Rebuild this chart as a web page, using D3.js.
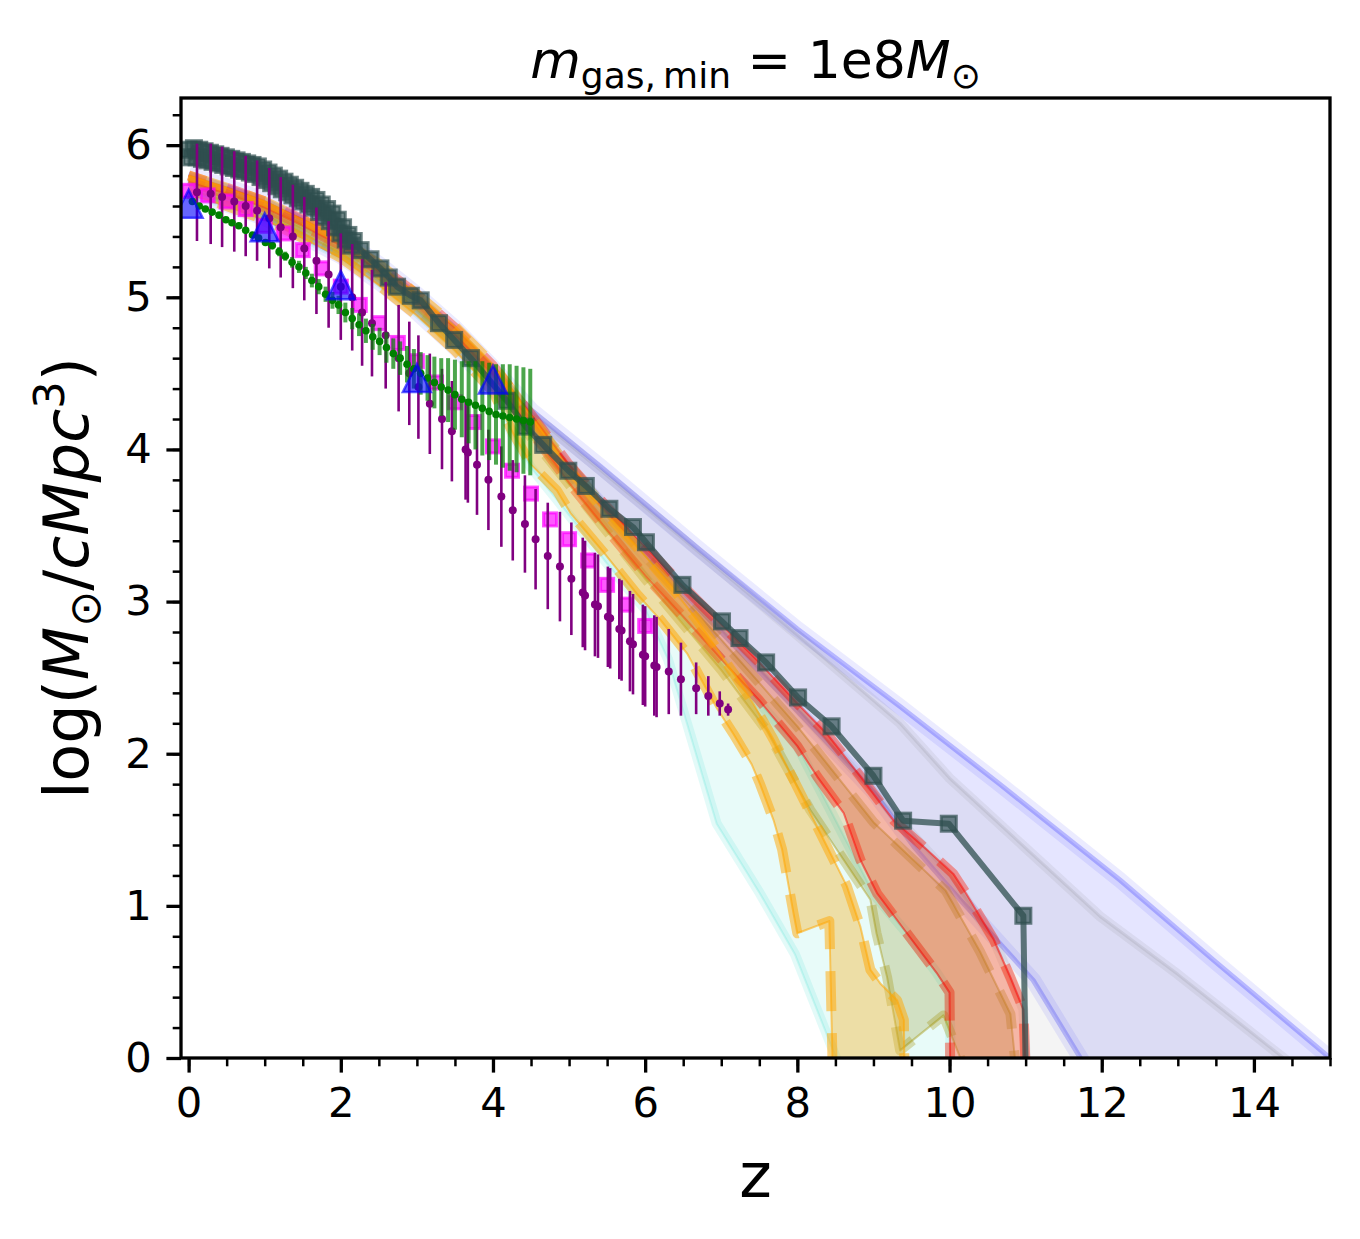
<!DOCTYPE html>
<html><head><meta charset="utf-8">
<script src="https://cdn.jsdelivr.net/npm/d3@7"></script>
<style>body{margin:0;background:#fff}</style>
</head><body>
<svg id="chart" width="1360" height="1239"></svg>
<script>
// ---------------- data ----------------
const xTicks = [0,2,4,6,8,10,12,14];
const yTicks = [0,1,2,3,4,5,6];

// dark slate simulation series (squares + line)
const darkZ = [0.00,0.035,0.07,0.105,0.14,0.175,0.21,0.245,0.28,0.315,0.35,0.385,0.42,0.455,0.49,0.525,0.56,0.595,0.63,0.665,0.70,0.735,0.77,0.805,0.84,0.875,0.91,0.945,0.98,1.015,1.05,1.085,1.12,1.155,1.19,1.225,1.26,1.295,1.33,1.365,1.40,1.435,1.47,1.505,1.54,1.575,1.61,1.645,1.68,1.715,1.75,1.785,1.82,1.855,1.89,1.925,1.96,1.995,2.03,2.065,2.10,2.135,2.17,2.26,2.39,2.52,2.63,2.74,2.92,3.05,3.29,3.49,3.71,4.18,4.43,4.66,4.99,5.22,5.53,5.84,6.01,6.49,7.01,7.24,7.59,8.01,8.45,9.00,9.39,9.99,10.97,11.01];
const darkY = [5.97,5.92,5.98,5.92,5.97,5.91,5.96,5.90,5.95,5.89,5.94,5.88,5.93,5.87,5.92,5.86,5.91,5.85,5.90,5.84,5.89,5.83,5.88,5.82,5.87,5.81,5.86,5.79,5.84,5.77,5.82,5.75,5.80,5.73,5.78,5.71,5.76,5.69,5.74,5.67,5.72,5.65,5.70,5.63,5.68,5.61,5.66,5.59,5.64,5.56,5.61,5.53,5.58,5.50,5.55,5.46,5.51,5.42,5.46,5.38,5.41,5.34,5.37,5.31,5.25,5.19,5.13,5.07,5.01,4.98,4.83,4.72,4.60,4.32,4.15,4.03,3.86,3.76,3.61,3.49,3.39,3.11,2.87,2.76,2.60,2.37,2.18,1.855,1.56,1.54,0.935,-0.4];

// blue triangles
const triZ = [0,1,2,3,4];
const triY = [5.615,5.46,5.08,4.47,4.46];

// magenta squares
const pinkZ = [0,0.25,0.5,0.75,1,1.25,1.5,1.75,2,2.25,2.5,2.75,3,3.25,3.5,3.75,4,4.25,4.5,4.75,5,5.25,5.5,5.75,6];
const pinkY = [5.70,5.67,5.63,5.58,5.47,5.42,5.31,5.19,5.07,4.95,4.83,4.70,4.58,4.44,4.31,4.18,4.02,3.86,3.71,3.54,3.41,3.27,3.11,2.98,2.84];

// purple points with error bars
const purpleZ = [0.11,0.29,0.44,0.60,0.75,0.90,1.06,1.21,1.37,1.52,1.68,1.84,2.00,2.15,2.28,2.41,2.59,2.76,2.90,3.02,3.17,3.33,3.46,3.64,3.67,3.79,3.94,4.11,4.26,4.42,4.56,4.72,4.88,5.03,5.18,5.21,5.34,5.38,5.51,5.54,5.66,5.69,5.80,5.84,5.97,6.00,6.12,6.15,6.31,6.47,6.67,6.83,6.98,7.09];
const purpleY = [5.69,5.68,5.66,5.63,5.60,5.57,5.52,5.46,5.40,5.32,5.24,5.15,5.07,5.00,4.90,4.83,4.75,4.60,4.50,4.41,4.30,4.20,4.12,4.00,3.98,3.90,3.80,3.69,3.60,3.51,3.41,3.30,3.23,3.15,3.06,3.04,2.98,2.97,2.90,2.89,2.82,2.81,2.74,2.72,2.65,2.64,2.58,2.57,2.54,2.49,2.43,2.38,2.33,2.29];
const purpleErr = [0.32,0.33,0.33,0.33,0.33,0.33,0.33,0.33,0.34,0.34,0.35,0.35,0.35,0.35,0.35,0.35,0.35,0.35,0.34,0.34,0.33,0.33,0.33,0.33,0.33,0.33,0.33,0.33,0.33,0.32,0.33,0.35,0.36,0.37,0.36,0.36,0.34,0.34,0.33,0.33,0.33,0.33,0.33,0.33,0.33,0.33,0.33,0.33,0.28,0.24,0.17,0.13,0.08,0.04];

// green points with error bars
const greenZ = [0.05,0.14,0.22,0.31,0.40,0.49,0.57,0.66,0.75,0.84,0.92,1.01,1.10,1.19,1.27,1.36,1.45,1.54,1.62,1.71,1.80,1.89,1.97,2.06,2.15,2.24,2.33,2.42,2.51,2.60,2.69,2.78,2.87,2.96,3.05,3.14,3.23,3.32,3.41,3.50,3.59,3.68,3.77,3.86,3.95,4.04,4.13,4.22,4.31,4.40,4.49];
const greenY = [5.63,5.60,5.58,5.56,5.54,5.51,5.49,5.47,5.44,5.41,5.39,5.36,5.34,5.30,5.27,5.23,5.20,5.16,5.11,5.07,5.02,4.98,4.95,4.90,4.86,4.82,4.78,4.74,4.71,4.67,4.63,4.60,4.56,4.53,4.50,4.47,4.44,4.41,4.39,4.36,4.33,4.31,4.29,4.27,4.25,4.23,4.22,4.21,4.20,4.19,4.18];
const greenErr = [0.01,0.01,0.01,0.01,0.01,0.01,0.015,0.015,0.015,0.02,0.02,0.02,0.025,0.03,0.03,0.035,0.04,0.04,0.045,0.05,0.05,0.055,0.06,0.065,0.07,0.075,0.08,0.085,0.09,0.10,0.10,0.11,0.12,0.13,0.14,0.15,0.17,0.19,0.21,0.23,0.25,0.27,0.29,0.31,0.32,0.33,0.34,0.35,0.35,0.35,0.35];

// model bands: [z, log density] along upper and lower edges
const blueUpper = [[0,5.81],[0.5,5.73],[1,5.64],[1.5,5.52],[2,5.39],[2.5,5.22],[3,5.02],[3.5,4.80],[4,4.54],[4.5,4.26],[5.41,3.89],[6.72,3.34],[8.0,2.82],[9.35,2.31],[10.66,1.80],[12.24,1.17],[13.5,0.63],[15.0,0.0],[15.3,-0.12]];
const blueLower = [[0,5.69],[0.5,5.61],[1,5.52],[1.5,5.40],[2,5.27],[2.5,5.10],[3,4.90],[3.5,4.67],[4,4.41],[4.5,4.15],[5,3.86],[6,3.32],[7,2.80],[8,2.28],[9,1.75],[9.53,1.39],[10.14,1.04],[11.1,0.51],[11.72,0.0],[11.9,-0.15]];
const grayUpper = [[0,5.78],[0.5,5.70],[1,5.61],[1.5,5.49],[2,5.36],[2.5,5.19],[3,4.99],[3.5,4.77],[4,4.51],[4.5,4.24],[6,3.62],[7,3.2],[8,2.78],[9.35,2.2],[10,1.84],[11,1.38],[11.98,0.93],[13,0.55],[14.39,0.0],[14.7,-0.12]];
const grayLower = [[0,5.70],[0.5,5.62],[1,5.53],[1.5,5.41],[2,5.28],[2.5,5.11],[3,4.91],[3.5,4.69],[4,4.43],[4.5,4.15],[6,3.34],[8,2.3],[10,1.2],[10.58,0.78],[10.97,0.32],[11.02,-0.2]];
const cyanUpper = [[0,5.77],[0.5,5.69],[1,5.60],[1.5,5.48],[2,5.35],[2.5,5.18],[3,4.98],[3.5,4.76],[4,4.50],[4.5,4.18],[6,3.2],[7,2.62],[8,2.05],[9,1.08],[9.44,0.82],[9.83,0.56],[10.0,0.43],[10.02,-0.2]];
const cyanLower = [[0,5.69],[0.5,5.61],[1,5.52],[1.5,5.40],[2,5.27],[2.5,5.10],[3,4.90],[3.5,4.68],[4,4.40],[4.25,4.10],[4.5,3.88],[4.84,3.67],[5.5,3.25],[6.0,2.95],[6.3,2.62],[6.46,2.35],[6.94,1.54],[7.51,1.08],[7.97,0.68],[8.51,0.0],[8.65,-0.12]];
const oliveUpper = [[0,5.77],[0.5,5.69],[1,5.60],[1.5,5.48],[2,5.35],[2.5,5.18],[3,4.98],[3.5,4.76],[4,4.51],[4.5,4.2],[6,3.3],[7,2.75],[8,2.18],[9,1.55],[9.95,1.10],[10.4,0.7],[10.8,0.29],[10.9,-0.2]];
const oliveLower = [[0,5.71],[0.5,5.63],[1,5.54],[1.5,5.42],[2,5.29],[2.5,5.12],[3,4.92],[3.5,4.70],[4,4.43],[4.5,4.08],[6,3.15],[7,2.55],[7.6,2.15],[8.17,1.63],[8.96,1.04],[9.04,0.82],[9.18,0.53],[9.35,0.05],[9.92,0.28],[10.3,-0.2]];
const redUpper = [[0,5.80],[0.5,5.72],[1,5.63],[1.5,5.51],[2,5.38],[2.5,5.21],[3,5.02],[3.5,4.80],[4,4.55],[4.5,4.23],[5,3.9],[5.5,3.62],[6,3.36],[6.5,3.1],[7,2.85],[7.5,2.6],[8,2.33],[8.39,2.13],[8.83,1.85],[9.27,1.56],[9.7,1.37],[10.05,1.21],[10.22,1.08],[10.58,0.78],[10.8,0.53],[10.97,0.32],[11.01,-0.2]];
const redLower = [[0,5.76],[0.5,5.68],[1,5.59],[1.5,5.47],[2,5.34],[2.5,5.17],[3,4.97],[3.5,4.75],[4,4.49],[4.5,4.12],[5,3.78],[5.5,3.47],[6,3.17],[6.5,2.9],[7,2.62],[7.5,2.35],[8,2.05],[8.26,1.85],[8.61,1.61],[8.83,1.30],[9.05,1.08],[9.44,0.82],[9.83,0.56],[10.0,0.43],[10.01,-0.2]];
const yellowUpper = [[0,5.80],[0.5,5.72],[1,5.63],[1.5,5.51],[2,5.38],[2.5,5.22],[3,5.02],[3.5,4.81],[4,4.56],[4.5,4.22],[5,3.87],[5.5,3.57],[6.0,3.3],[6.42,3.05],[6.68,2.88],[7.16,2.53],[7.42,2.33],[7.69,2.09],[8.04,1.74],[8.39,1.39],[8.65,1.13],[8.83,0.86],[8.96,0.58],[9.09,0.49],[9.31,0.38],[9.40,0.25],[9.41,-0.2]];
const yellowLower = [[0,5.68],[0.5,5.60],[1,5.51],[1.5,5.39],[2,5.26],[2.5,5.08],[3,4.88],[3.5,4.65],[4,4.38],[4.25,4.12],[4.5,3.9],[4.84,3.73],[5.02,3.58],[5.46,3.32],[5.89,3.05],[6.2,2.88],[6.55,2.66],[6.94,2.3],[7.16,2.13],[7.4,1.93],[7.51,1.80],[7.69,1.56],[7.8,1.37],[7.95,0.95],[8.0,0.82],[8.42,0.90],[8.47,-0.2]];

// ---------------- layout ----------------
const L = 181, R = 1330, T = 98, B = 1058;
const FONT = "DejaVu Sans";
const x = d3.scaleLinear().domain([-0.1, 15]).range([L, R]);
const y = d3.scaleLinear().domain([0, 6.31]).range([B, T]);
const svg = d3.select('#chart');
svg.append('rect').attr('width',1360).attr('height',1239).attr('fill','#fff');
svg.append('defs').append('clipPath').attr('id','clip')
  .append('rect').attr('x',L).attr('y',T).attr('width',R-L).attr('height',B-T);
const g = svg.append('g').attr('clip-path','url(#clip)');
const line = d3.line().x(d=>x(d[0])).y(d=>y(d[1]));

const bands = [
  {up:blueUpper, lo:blueLower, fill:'#0000ff', fo:0.10, ec:'#0000ff', eo:0.08, ew:16, dash:null, off:[0,0], ic:'#0000ff', io:0.22, iw:5},
  {up:grayUpper, lo:grayLower, fill:'#808080', fo:0.09, ec:'#808080', eo:0.12, ew:10, dash:null, off:[0,0], ic:'#606060', io:0.12, iw:3},
  {up:cyanUpper, lo:cyanLower, fill:'#40e0d0', fo:0.12, ec:'#40e0d0', eo:0.15, ew:10, dash:null, off:[0,0], ic:'#40e0d0', io:0.2, iw:2},
  {up:oliveUpper, lo:oliveLower, fill:'#808000', fo:0.22, ec:'#a09000', eo:0.3, ew:10, dash:'40,22', off:[10,41], ic:'#a09000', io:0.4, iw:2},
  {up:redUpper, lo:redLower, fill:'#e8502a', fo:0.42, ec:'#ff1a00', eo:0.4, ew:10, dash:'40,22', off:[22,52], ic:'#ff0000', io:0.5, iw:2},
  {up:yellowUpper, lo:yellowLower, fill:'#f5b020', fo:0.38, ec:'#ffa500', eo:0.5, ew:10, dash:'40,22', off:[0,31], ic:'#ffa500', io:0.55, iw:2}
];
bands.forEach(b=>{
  const poly = b.up.concat(b.lo.slice().reverse());
  g.append('path').attr('d', line(poly)+'Z').attr('fill', b.fill).attr('fill-opacity', b.fo).attr('stroke','none');
  [b.up, b.lo].forEach((e,k)=>{
    g.append('path').attr('d', line(e)).attr('fill','none')
      .attr('stroke', b.ec).attr('stroke-opacity', b.eo).attr('stroke-width', b.ew)
      .attr('stroke-dasharray', b.dash).attr('stroke-dashoffset', b.off[k]).attr('stroke-linejoin','round');
    g.append('path').attr('d', line(e)).attr('fill','none')
      .attr('stroke', b.ic).attr('stroke-opacity', b.io).attr('stroke-width', b.iw)
      .attr('stroke-linejoin','round');
  });
});

// dark series
const dark = darkZ.map((z,i)=>[z, darkY[i]]);
g.append('path').attr('d', line(dark)).attr('fill','none')
  .attr('stroke','#2f4f4f').attr('stroke-opacity',0.75).attr('stroke-width',6).attr('stroke-linejoin','round');
const sq = 15;
g.selectAll('rect.dark').data(dark.filter(d=>d[1]>=0)).join('rect').attr('class','dark')
  .attr('x', d=>x(d[0])-sq/2).attr('y', d=>y(d[1])-sq/2).attr('width',sq).attr('height',sq)
  .attr('fill','#2f4f4f').attr('fill-opacity',0.68).attr('stroke','#2f4f4f').attr('stroke-opacity',0.7).attr('stroke-width',3);

// magenta squares
const pink = pinkZ.map((z,i)=>[z, pinkY[i]]);
const ps = 13;
g.selectAll('rect.pink').data(pink).join('rect').attr('class','pink')
  .attr('x', d=>x(d[0])-ps/2).attr('y', d=>y(d[1])-ps/2).attr('width',ps).attr('height',ps)
  .attr('fill','#ff00ff').attr('fill-opacity',0.65).attr('stroke','#ff00ff').attr('stroke-opacity',0.7).attr('stroke-width',3);

// purple error bars
const purple = purpleZ.map((z,i)=>({z, v:purpleY[i], e:purpleErr[i]}));
g.selectAll('line.pbar').data(purple).join('line').attr('class','pbar')
  .attr('x1', d=>x(d.z)).attr('x2', d=>x(d.z)).attr('y1', d=>y(d.v-d.e)).attr('y2', d=>y(d.v+d.e))
  .attr('stroke','#800080').attr('stroke-width',2.6);
g.selectAll('circle.pdot').data(purple).join('circle').attr('class','pdot')
  .attr('cx', d=>x(d.z)).attr('cy', d=>y(d.v)).attr('r',4).attr('fill','#800080');

// green error bars and dots
const green = greenZ.map((z,i)=>({z, v:greenY[i], e:greenErr[i]}));
g.selectAll('line.gbar').data(green).join('line').attr('class','gbar')
  .attr('x1', d=>x(d.z)).attr('x2', d=>x(d.z)).attr('y1', d=>y(d.v-d.e)).attr('y2', d=>y(d.v+d.e))
  .attr('stroke','#008000').attr('stroke-opacity',0.7).attr('stroke-width',4);
g.selectAll('circle.gdot').data(green).join('circle').attr('class','gdot')
  .attr('cx', d=>x(d.z)).attr('cy', d=>y(d.v)).attr('r',3.8).attr('fill','#008000');

// blue triangles
const tri = triZ.map((z,i)=>[z, triY[i]]);
const th = 28;
g.selectAll('path.tri').data(tri).join('path').attr('class','tri')
  .attr('d', d=>{const cx=x(d[0]), cy=y(d[1]); return `M${cx},${cy-th/2}L${cx-th/2},${cy+th/2}L${cx+th/2},${cy+th/2}Z`;})
  .attr('fill','#0000ff').attr('fill-opacity',0.6).attr('stroke','#0000ff').attr('stroke-opacity',0.65).attr('stroke-width',2.5).attr('stroke-linejoin','miter');

// ---------------- axes ----------------
function styleAxis(sel, major){
  sel.select('.domain').remove();
  sel.attr('font-size', null).attr('font-family', null);
  sel.selectAll('line').attr('stroke','#000').attr('stroke-width', major?3.3:2.5);
  sel.selectAll('text').attr('font-size', 41.7).attr('font-family', FONT).attr('fill','#000');
}
svg.append('g').attr('transform',`translate(0,${B})`)
  .call(d3.axisBottom(x).tickValues(d3.range(0,15.01,0.5)).tickSize(8.3).tickFormat(''))
  .call(s=>styleAxis(s,false));
svg.append('g').attr('transform',`translate(0,${B})`)
  .call(d3.axisBottom(x).tickValues(xTicks).tickSize(14.6).tickPadding(14.6).tickFormat(d3.format('d')))
  .call(s=>styleAxis(s,true));
svg.append('g').attr('transform',`translate(${L},0)`)
  .call(d3.axisLeft(y).tickValues(d3.range(0,6.31,0.2)).tickSize(8.3).tickFormat(''))
  .call(s=>styleAxis(s,false));
svg.append('g').attr('transform',`translate(${L},0)`)
  .call(d3.axisLeft(y).tickValues(yTicks).tickSize(14.6).tickPadding(14.6).tickFormat(d3.format('d')))
  .call(s=>styleAxis(s,true));

svg.append('rect').attr('x',L).attr('y',T).attr('width',R-L).attr('height',B-T)
  .attr('fill','none').attr('stroke','#000').attr('stroke-width',3.3);

// ---------------- texts ----------------
const title = svg.append('text').attr('x',(L+R)/2).attr('y',78).attr('text-anchor','middle')
  .attr('font-family',FONT).attr('font-size',52).attr('fill','#000');
title.append('tspan').attr('font-style','italic').text('m');
title.append('tspan').attr('font-size',36).attr('dy',10).text('gas,\u2009min');
title.append('tspan').attr('dy',-10).text(' = 1e8');
title.append('tspan').attr('font-style','italic').text('M');
title.append('tspan').attr('font-size',36).attr('dy',10).text('\u2299');

svg.append('text').attr('x',(L+R)/2).attr('y',1197).attr('text-anchor','middle')
  .attr('font-family',FONT).attr('font-size',62).attr('fill','#000').text('z');

const yl = svg.append('text').attr('transform',`translate(88,${(T+B)/2}) rotate(-90)`).attr('text-anchor','middle')
  .attr('font-family',FONT).attr('font-size',62).attr('fill','#000');
yl.append('tspan').text('log(');
yl.append('tspan').attr('font-style','italic').text('M');
yl.append('tspan').attr('font-size',43).attr('dy',12).text('\u2299');
yl.append('tspan').attr('dy',-12).text('/');
yl.append('tspan').attr('font-style','italic').text('cMpc');
yl.append('tspan').attr('font-size',43).attr('dy',-24).text('3');
yl.append('tspan').attr('dy',24).text(')');
</script>
</body></html>
